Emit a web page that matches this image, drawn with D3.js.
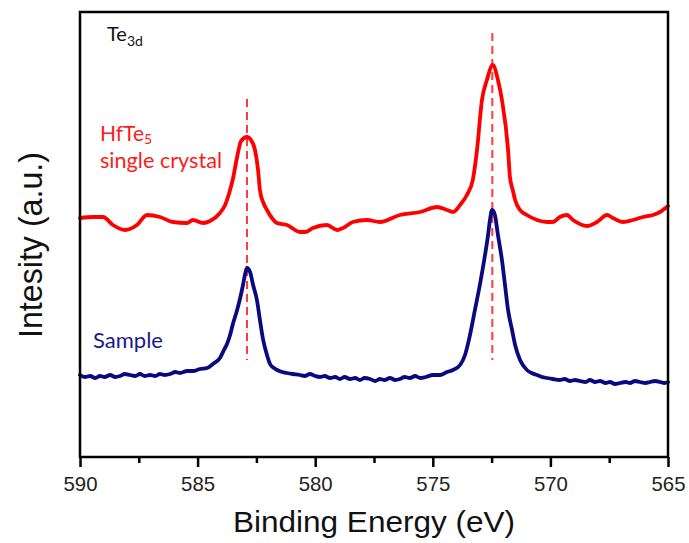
<!DOCTYPE html>
<html>
<head>
<meta charset="utf-8">
<script src="https://cdn.jsdelivr.net/npm/d3@7"></script>
<style>
html,body{margin:0;padding:0;background:#fff;}
svg{display:block;}
</style>
</head>
<body>
<svg id="chart" width="689" height="543"></svg>
<script>
// ---- Data (binding energy in eV, intensity in arbitrary units) ----
const xTicks = [590, 585, 580, 575, 570, 565];
const xMinorTicks = [587.5, 582.5, 577.5, 572.5, 567.5];

const crystalEnergy = [590.00,589.45,589.02,588.60,588.09,587.58,587.15,586.60,586.05,585.45,585.20,584.77,584.47,584.05,583.83,583.62,583.50,583.32,583.15,582.90,582.73,582.56,582.43,582.35,582.20,582.05,581.84,581.62,581.20,580.65,580.43,580.10,579.50,579.07,578.82,578.40,577.80,577.25,576.40,575.54,574.82,574.40,574.14,573.84,573.55,573.30,573.12,572.91,572.70,572.45,572.23,572.06,571.80,571.72,571.60,571.50,571.29,571.00,570.57,570.14,569.90,569.60,569.30,569.04,568.44,568.02,567.59,567.34,566.91,566.49,566.06,565.64,565.34,565.00];
const crystalIntensity = [239,240,240,232,227,232,242,240,235,234,237,234,236,244,252,267,278,300,316,320,317,307,287,267,254,247,239,234,232,225,225,229,232,227,229,235,237,235,242,245,250,247,245,252,262,277,307,357,377,392,377,357,307,280,267,257,247,242,237,235,235,240,242,237,231,235,242,239,235,237,240,242,245,251];

const sampleEnergy = [590.00,589.80,589.57,589.35,589.15,588.95,588.72,588.50,588.30,588.10,587.87,587.65,587.45,587.25,587.02,586.80,586.60,586.40,586.17,585.95,585.75,585.45,585.20,584.90,584.60,584.35,584.05,583.88,583.75,583.62,583.50,583.32,583.20,583.07,582.98,582.90,582.77,582.64,582.47,582.35,582.22,582.05,581.92,581.75,581.62,581.40,581.20,580.95,580.65,580.45,580.22,580.00,579.80,579.60,579.37,579.15,578.95,578.75,578.52,578.30,578.10,577.90,577.67,577.45,577.25,577.05,576.82,576.60,576.40,576.20,575.97,575.75,575.54,575.30,574.99,574.69,574.40,574.14,573.84,573.63,573.42,573.21,573.00,572.78,572.65,572.57,572.48,572.36,572.23,572.06,571.93,571.80,571.63,571.50,571.29,571.00,570.80,570.57,570.35,570.14,569.90,569.60,569.40,569.17,568.95,568.74,568.50,568.32,568.10,567.89,567.65,567.47,567.25,567.04,566.80,566.62,566.40,566.19,565.95,565.77,565.55,565.34,565.15,565.00];
const sampleIntensity = [82,80,81,79,81,80,82,80,81,83,82,81,83,81,82,81,83,82,83,85,84,86,86,88,89,93,99,107,113,122,133,147,158,172,183,189,185,172,156,137,118,102,93,89,87,85,84,83,82,81,83,81,80,81,79,80,78,80,78,79,77,79,78,76,78,77,79,77,78,80,79,81,79,80,82,82,85,87,92,102,122,147,172,202,222,237,247,242,222,197,172,147,127,112,97,87,84,82,80,79,78,77,78,76,77,76,75,77,75,76,74,75,73,74,75,74,76,75,74,75,76,75,74,75];

const peakEnergy = [582.9, 572.47];
const peakLineTop = [358, 424];
const peakLineBottom = [97, 97];

// ---- Layout ----
const svg = d3.select("#chart");
const L = 80, R = 668, T = 12, B = 457;

const x = d3.scaleLinear().domain([590, 565]).range([L, R]);
const y = d3.scaleLinear().domain([0, 445]).range([B, T]);

const line = d3.line()
  .x(d => x(d[0])).y(d => y(d[1]))
  .curve(d3.curveMonotoneX);

// dashed reference lines
svg.selectAll("line.ref").data(peakEnergy).enter().append("line")
  .attr("class", "ref")
  .attr("x1", d => x(d)).attr("x2", d => x(d))
  .attr("y1", (d, i) => y(peakLineTop[i]))
  .attr("y2", (d, i) => y(peakLineBottom[i]))
  .attr("stroke", "#ff3b3b").attr("stroke-width", 2)
  .attr("stroke-dasharray", "8,5");

// series
svg.append("path")
  .attr("d", line(crystalEnergy.map((e, i) => [e, crystalIntensity[i]]).reverse()))
  .attr("fill", "none").attr("stroke", "#ff0000")
  .attr("stroke-width", 3.8).attr("stroke-linejoin", "round").attr("stroke-linecap", "round");

svg.append("path")
  .attr("d", line(sampleEnergy.map((e, i) => [e, sampleIntensity[i]]).reverse()))
  .attr("fill", "none").attr("stroke", "#0a0a80")
  .attr("stroke-width", 3.8).attr("stroke-linejoin", "round").attr("stroke-linecap", "round");

// frame
svg.append("rect")
  .attr("x", L).attr("y", T).attr("width", R - L).attr("height", B - T)
  .attr("fill", "none").attr("stroke", "#000").attr("stroke-width", 2.5);

// x axis
const xAxis = d3.axisBottom(x).tickValues(xTicks).tickSize(10).tickPadding(6)
  .tickFormat(d3.format("d"));
const gx = svg.append("g").attr("transform", `translate(0,${B})`).call(xAxis);
gx.select(".domain").remove();
gx.selectAll(".tick line").attr("stroke", "#000").attr("stroke-width", 2.5);
gx.selectAll(".tick text")
  .attr("font-family", "'Liberation Sans', Arial, sans-serif")
  .attr("font-size", 21).attr("fill", "#222").attr("dy", "0.85em")
  .attr("textLength", 34).attr("lengthAdjust", "spacingAndGlyphs");

const xMinor = d3.axisBottom(x).tickValues(xMinorTicks).tickSize(6).tickFormat("");
const gm = svg.append("g").attr("transform", `translate(0,${B})`).call(xMinor);
gm.select(".domain").remove();
gm.selectAll(".tick line").attr("stroke", "#000").attr("stroke-width", 2.5);

// axis titles
svg.append("text")
  .attr("x", (233 + 515) / 2).attr("y", 532)
  .attr("text-anchor", "middle")
  .attr("font-family", "'Liberation Sans', Arial, sans-serif")
  .attr("font-size", 29).attr("fill", "#111")
  .attr("textLength", 282).attr("lengthAdjust", "spacingAndGlyphs")
  .text("Binding Energy (eV)");

svg.append("text")
  .attr("transform", "translate(42,245) rotate(-90)")
  .attr("text-anchor", "middle")
  .attr("font-family", "'Liberation Sans', Arial, sans-serif")
  .attr("font-size", 34).attr("fill", "#111")
  .attr("textLength", 186).attr("lengthAdjust", "spacingAndGlyphs")
  .text("Intesity (a.u.)");

// annotations
const annoFont = "Lato, 'Open Sans', sans-serif";
const te = svg.append("text").attr("x", 107).attr("y", 41)
  .attr("font-family", annoFont).attr("font-size", 20).attr("fill", "#111");
te.append("tspan").text("Te");
te.append("tspan").attr("dy", 5).attr("font-size", 14).text("3d");

const hf = svg.append("text").attr("x", 100).attr("y", 141)
  .attr("font-family", annoFont).attr("font-size", 21).attr("fill", "#ff1a1a");
hf.append("tspan").text("HfTe");
hf.append("tspan").attr("dy", 3).attr("font-size", 14).text("5");

svg.append("text").attr("x", 100).attr("y", 168)
  .attr("font-family", annoFont).attr("font-size", 21).attr("fill", "#ff1a1a")
  .attr("textLength", 122).attr("lengthAdjust", "spacingAndGlyphs")
  .text("single crystal");

svg.append("text").attr("x", 93).attr("y", 348)
  .attr("font-family", annoFont).attr("font-size", 21).attr("fill", "#1a1a8a")
  .attr("textLength", 70).attr("lengthAdjust", "spacingAndGlyphs")
  .text("Sample");
</script>
</body>
</html>
